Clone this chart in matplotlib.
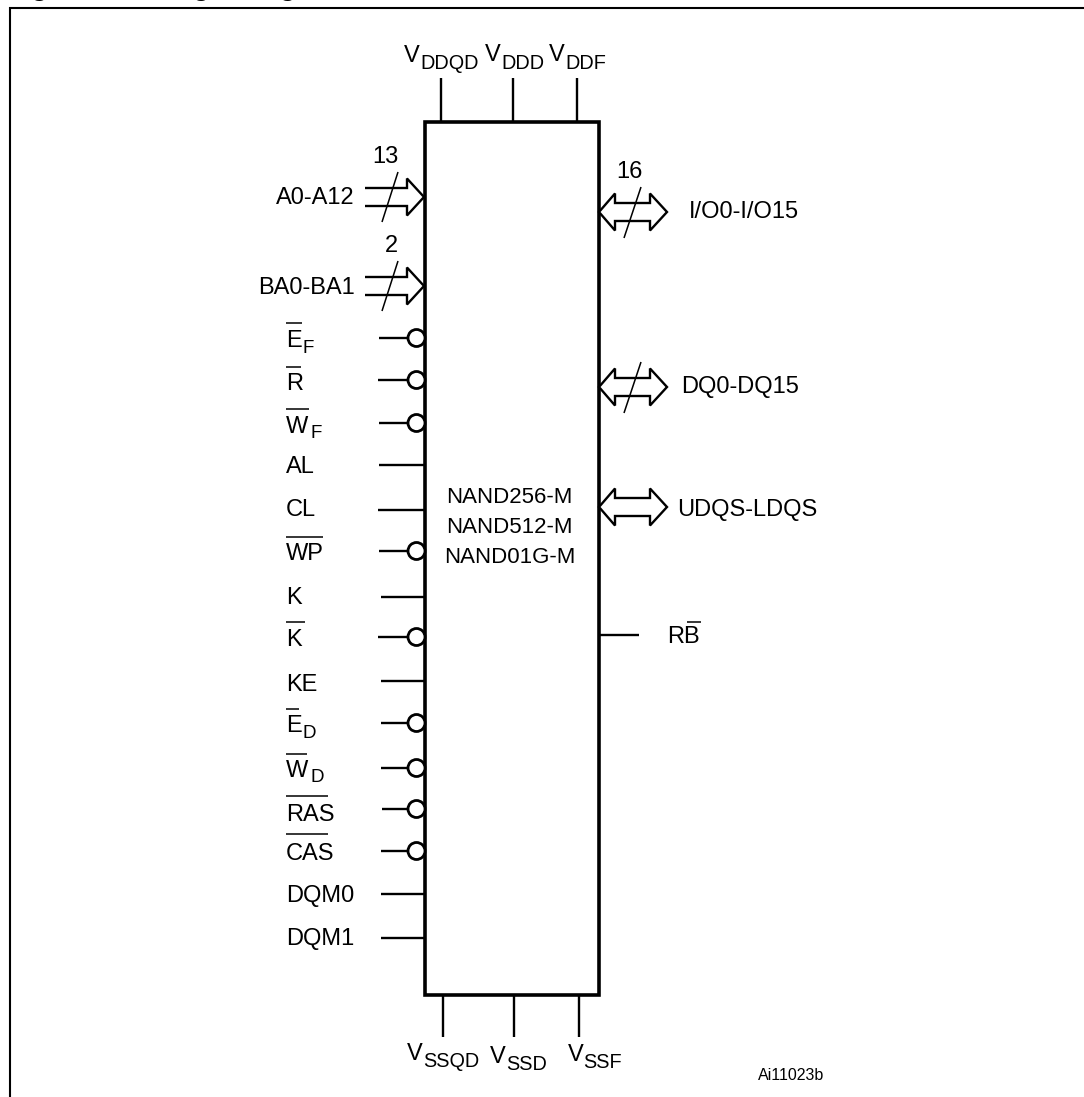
#!/usr/bin/env python3
"""
Logic diagram redraw (pixel coordinates, y pointing down)
"""
import matplotlib
matplotlib.use("Agg")
import matplotlib.pyplot as plt
from matplotlib.patches import Polygon, Circle, Rectangle

plt.rcParams['font.family'] = ['Liberation Sans', 'DejaVu Sans']

W, H = 1084, 1097

# left side pins
left_labels = ['E', 'R', 'W', 'AL', 'CL', 'WP', 'K', 'K', 'KE', 'E', 'W', 'RAS', 'CAS', 'DQM0', 'DQM1']
left_subs = ['F', '', 'F', '', '', '', '', '', '', 'D', 'D', '', '', '', '']
left_inverted = [1, 1, 1, 0, 0, 1, 0, 1, 0, 1, 1, 1, 1, 0, 0]
left_y = [338, 380, 423, 465, 510, 551, 597, 637, 681, 723, 768, 809, 851, 894, 938]
left_x0 = [379, 378, 379, 379, 378, 379, 381, 378, 381, 381, 381, 382, 381, 381, 381]
left_base = [347, 390, 433, 473, 516, 560, 604, 646, 691, 732, 777, 821, 860, 902, 945]
left_bar_y = [323, 367, 409, 0, 0, 537, 0, 622, 0, 709, 754, 796, 834, 0, 0]
left_bar_x1 = [302, 301, 309, 0, 0, 323, 0, 305, 0, 299, 307, 328, 328, 0, 0]
left_sub_x = [303, 0, 310, 0, 0, 0, 0, 0, 0, 303, 310, 0, 0, 0, 0]
left_sub_base = [353, 0, 438, 0, 0, 0, 0, 0, 0, 738, 782, 0, 0, 0, 0]

# power pins
top_names = ['DDQD', 'DDD', 'DDF']
top_x = [441, 513, 577]
top_v_x = [404, 485, 549]
top_v_base = [62, 61, 61]
top_sub_x = [420, 501, 565]
bottom_names = ['SSQD', 'SSD', 'SSF']
bottom_x = [443, 514, 579]
bottom_v_x = [407, 490, 568]
bottom_v_base = [1060, 1063, 1061]
bottom_sub_x = [423, 506, 583]
bottom_sub_base = [1067, 1070, 1068]

# buses
in_bus_names = ['A0-A12', 'BA0-BA1']
in_bus_y = [197, 286]
in_bus_width = ['13', '2']
in_bus_width_x = [385, 391]
in_bus_width_base = [163, 252]
out_bus_names = ['I/O0-I/O15', 'DQ0-DQ15', 'UDQS-LDQS']
out_bus_y = [212, 387, 507]
out_bus_slash = [1, 1, 0]
out_label_x = [689, 681, 677]
out_label_base = [218, 393, 516]

chip_names = ['NAND256-M', 'NAND512-M', 'NAND01G-M']
chip_base = [503, 533, 563]

fig = plt.figure(figsize=(W / 100, H / 100), dpi=100)
ax = fig.add_axes([0, 0, 1, 1])
ax.set_xlim(0, W)
ax.set_ylim(H, 0)
ax.axis('off')

FS = 17
LW = 1.7


def line(x0, y0, x1, y1, lw=LW, z=2):
    ax.plot([x0, x1], [y0, y1], color='black', lw=lw, solid_capstyle='butt', zorder=z)


# title is cut by the top of the page, only the descenders show
ax.text(8.5, -4, 'Figure 2.', fontsize=19, fontweight='bold', ha='left', va='baseline')
ax.text(161, -4, 'Logic Diagram', fontsize=19, fontweight='bold', ha='left', va='baseline')
line(9, 8, W, 8, 1.5)
line(10, 7, 10, H, 1.5)

# chip body
ax.add_patch(Rectangle((424.5, 121.5), 174, 873, fill=False, ec='black', lw=2.6, zorder=3))
for name, y in zip(chip_names, chip_base):
    ax.text(509.5, y, name, fontsize=16, ha='center', va='baseline')

# supply pins
for name, x, vx, vb, sx in zip(top_names, top_x, top_v_x, top_v_base, top_sub_x):
    line(x, 78, x, 121)
    ax.text(vx, vb, 'V', fontsize=FS, ha='left', va='baseline')
    ax.text(sx, 69, name, fontsize=14.3, ha='left', va='baseline')
for name, x, vx, vb, sx, sb in zip(bottom_names, bottom_x, bottom_v_x, bottom_v_base, bottom_sub_x, bottom_sub_base):
    line(x, 994, x, 1037)
    ax.text(vx, vb, 'V', fontsize=FS, ha='left', va='baseline')
    ax.text(sx, sb, name, fontsize=14.3, ha='left', va='baseline')

# control pins
for i, lab in enumerate(left_labels):
    y = left_y[i]
    ax.text(286, left_base[i], lab, fontsize=FS, ha='left', va='baseline')
    if left_subs[i]:
        ax.text(left_sub_x[i], left_sub_base[i], left_subs[i], fontsize=13.5, ha='left', va='baseline')
    if left_bar_y[i]:
        line(286, left_bar_y[i], left_bar_x1[i], left_bar_y[i], 1.1)
    if left_inverted[i]:
        line(left_x0[i], y, 408, y)
        ax.add_patch(Circle((416.5, y), 8.5, fc='white', ec='black', lw=2.0, zorder=4))
    else:
        line(left_x0[i], y, 424, y)

# input buses
for name, y, width, wx, wb in zip(in_bus_names, in_bus_y, in_bus_width, in_bus_width_x, in_bus_width_base):
    pts = [(365, y - 9), (407, y - 9), (407, y - 18.5), (424, y), (407, y + 18.5), (407, y + 9), (365, y + 9)]
    ax.add_patch(Polygon(pts, closed=False, fc='white', ec='black', lw=1.7, zorder=4))
    line(382, y + 25, 398, y - 25, 1.1, 5)
    ax.text(355, y + 7.5, name, fontsize=FS, ha='right', va='baseline')
    ax.text(wx, wb, width, fontsize=FS, ha='center', va='baseline')

# bidirectional buses
for name, y, slash, lx, lb in zip(out_bus_names, out_bus_y, out_bus_slash, out_label_x, out_label_base):
    pts = [(599, y), (615, y - 18.5), (615, y - 9), (650, y - 9), (650, y - 18.5), (667, y),
           (650, y + 18.5), (650, y + 9), (615, y + 9), (615, y + 18.5)]
    ax.add_patch(Polygon(pts, closed=True, fc='white', ec='black', lw=1.7, zorder=4))
    if slash:
        line(624, y + 26, 641, y - 25, 1.1, 5)
    ax.text(lx, lb, name, fontsize=FS, ha='left', va='baseline')
ax.text(629, 178, '16', fontsize=FS, ha='center', va='baseline')

# ready/busy pin
line(599, 635, 639, 635)
ax.text(667, 643, 'RB', fontsize=FS, ha='left', va='baseline')
line(687, 622, 701, 622, 1.1)

# drawing reference
ax.text(758, 1080, 'Ai11023b', fontsize=11.5, ha='left', va='baseline')

fig.savefig('out.png', dpi=100)
